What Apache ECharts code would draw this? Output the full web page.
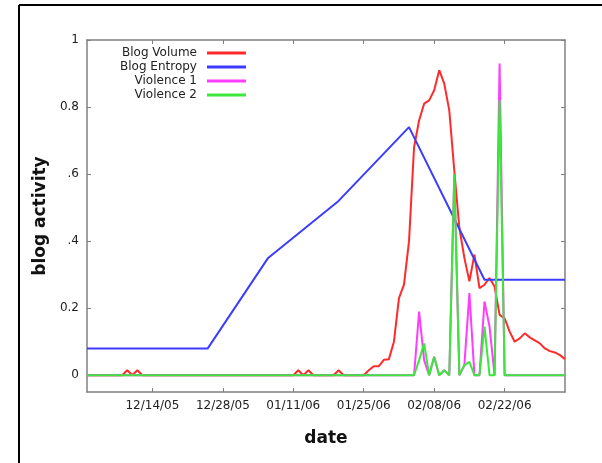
<!DOCTYPE html>
<html>
<head>
<meta charset="utf-8">
<script src="https://cdn.jsdelivr.net/npm/echarts@6/dist/echarts.min.js"></script>
<style>
html,body{margin:0;padding:0;background:#fff;}
#main{width:602px;height:463px;}
</style>
</head>
<body>
<div id="main"></div>
<script>
// x = days since 12/01/05
var tickDays = [13, 27, 41, 55, 69, 83];
var tickLabels = ['12/14/05', '12/28/05', '01/11/06', '01/25/06', '02/08/06', '02/22/06'];
var yTicks = [0, 0.2, 0.4, 0.6, 0.8, 1];
var yLabels = ['0', '0.2', '.4', '.6', '0.8', '1'];

// daily values, day 0 .. 95
var blogVolume = [
    0, 0, 0, 0, 0, 0, 0, 0, 0.015, 0, 0.015, 0, 0, 0, 0, 0, 0, 0, 0, 0,
    0, 0, 0, 0, 0, 0, 0, 0, 0, 0, 0, 0, 0, 0, 0, 0, 0, 0, 0, 0,
    0, 0, 0.015, 0, 0.015, 0, 0, 0, 0, 0, 0.015, 0, 0, 0, 0, 0, 0.015, 0.027, 0.027, 0.046,
    0.048, 0.10, 0.23, 0.27, 0.40, 0.68, 0.76, 0.81, 0.82, 0.85, 0.91, 0.87, 0.79, 0.61, 0.44, 0.35, 0.28, 0.36, 0.26, 0.27,
    0.29, 0.265, 0.18, 0.17, 0.13, 0.10, 0.11, 0.125, 0.113, 0.104, 0.095, 0.08, 0.072, 0.068, 0.06, 0.048
];
var violence1 = [
    0, 0, 0, 0, 0, 0, 0, 0, 0, 0, 0, 0, 0, 0, 0, 0, 0, 0, 0, 0,
    0, 0, 0, 0, 0, 0, 0, 0, 0, 0, 0, 0, 0, 0, 0, 0, 0, 0, 0, 0,
    0, 0, 0, 0, 0, 0, 0, 0, 0, 0, 0, 0, 0, 0, 0, 0, 0, 0, 0, 0,
    0, 0, 0, 0, 0, 0, 0.19, 0.045, 0, 0.055, 0, 0.015, 0, 0.6, 0, 0.03, 0.245, 0, 0, 0.22,
    0.145, 0, 0.93, 0, 0, 0, 0, 0, 0, 0, 0, 0, 0, 0, 0, 0
];
var violence2 = [
    0, 0, 0, 0, 0, 0, 0, 0, 0, 0, 0, 0, 0, 0, 0, 0, 0, 0, 0, 0,
    0, 0, 0, 0, 0, 0, 0, 0, 0, 0, 0, 0, 0, 0, 0, 0, 0, 0, 0, 0,
    0, 0, 0, 0, 0, 0, 0, 0, 0, 0, 0, 0, 0, 0, 0, 0, 0, 0, 0, 0,
    0, 0, 0, 0, 0, 0, 0.045, 0.095, 0, 0.055, 0, 0.015, 0, 0.6, 0, 0.03, 0.04, 0, 0, 0.145,
    0, 0, 0.82, 0, 0, 0, 0, 0, 0, 0, 0, 0, 0, 0, 0, 0
];
// entropy only at a few dates
var entropyDays = [0, 24, 36, 50, 64, 79, 95];
var entropyValues = [0.08, 0.08, 0.35, 0.52, 0.74, 0.285, 0.285];

function daily(arr) {
    var out = [];
    for (var i = 0; i < arr.length; i++) out.push([i, arr[i]]);
    return out;
}
var entropyData = [];
for (var i = 0; i < entropyDays.length; i++) entropyData.push([entropyDays[i], entropyValues[i]]);

var myChart = echarts.init(document.getElementById('main'));
var font = 'DejaVu Sans';
var axisGray = '#808080';

var option = {
    animation: false,
    backgroundColor: '#fff',
    textStyle: { fontFamily: font },
    grid: { left: 87, right: 37, top: 40, bottom: 71 },
    legend: {
        orient: 'vertical',
        align: 'right',
        left: 115,
        top: 41,
        itemGap: 0,
        itemWidth: 39,
        itemHeight: 3,
        icon: 'rect',
        textStyle: { fontFamily: font, fontSize: 12, color: '#222', padding: [0, 5, 0, 0], lineHeight: 14 },
        data: ['Blog Volume', 'Blog Entropy', 'Violence 1', 'Violence 2']
    },
    xAxis: [{
        type: 'value',
        min: 0,
        max: 95,
        position: 'bottom',
        name: 'date',
        nameLocation: 'middle',
        nameGap: 38,
        nameTextStyle: { fontFamily: font, fontSize: 17, fontWeight: 'bold', color: '#111' },
        axisLine: { show: true, onZero: false, lineStyle: { color: axisGray, width: 1.5 } },
        axisTick: { show: true, inside: true, length: 4, customValues: tickDays, lineStyle: { color: axisGray } },
        axisLabel: {
            customValues: tickDays, margin: 8, fontSize: 12, color: '#222', fontFamily: font,
            formatter: function (v) { return tickLabels[tickDays.indexOf(v)]; }
        },
        splitLine: { show: false }
    }, {
        type: 'value',
        min: 0,
        max: 95,
        position: 'top',
        axisLine: { show: true, onZero: false, lineStyle: { color: axisGray, width: 1.5 } },
        axisTick: { show: true, inside: true, length: 4, customValues: tickDays, lineStyle: { color: axisGray } },
        axisLabel: { show: false },
        splitLine: { show: false }
    }],
    yAxis: [{
        type: 'value',
        min: -0.05,
        max: 1,
        position: 'left',
        name: 'blog activity',
        nameLocation: 'middle',
        nameGap: 29,
        nameTextStyle: { fontFamily: font, fontSize: 17, fontWeight: 'bold', color: '#111' },
        axisLine: { show: true, onZero: false, lineStyle: { color: axisGray, width: 1.5 } },
        axisTick: { show: true, inside: true, length: 4, customValues: yTicks, lineStyle: { color: axisGray } },
        axisLabel: {
            customValues: yTicks, margin: 8, fontSize: 12, color: '#222', fontFamily: font,
            formatter: function (v) {
                for (var k = 0; k < yTicks.length; k++) if (Math.abs(yTicks[k] - v) < 1e-6) return yLabels[k];
                return '';
            }
        },
        splitLine: { show: false }
    }, {
        type: 'value',
        min: -0.05,
        max: 1,
        position: 'right',
        axisLine: { show: true, onZero: false, lineStyle: { color: axisGray, width: 1.5 } },
        axisTick: { show: true, inside: true, length: 4, customValues: yTicks, lineStyle: { color: axisGray } },
        axisLabel: { show: false },
        splitLine: { show: false }
    }],
    series: [
        { name: 'Blog Volume', type: 'line', data: daily(blogVolume), showSymbol: false, color: '#ff2a2a', lineStyle: { width: 2 } },
        { name: 'Blog Entropy', type: 'line', data: entropyData, showSymbol: false, color: '#3c3cff', lineStyle: { width: 2 } },
        { name: 'Violence 1', type: 'line', data: daily(violence1), showSymbol: false, color: '#ff3cff', lineStyle: { width: 2 } },
        { name: 'Violence 2', type: 'line', data: daily(violence2), showSymbol: false, color: '#3ce63c', lineStyle: { width: 2 } }
    ],
    graphic: [
        { type: 'line', shape: { x1: 19, y1: 5, x2: 602, y2: 5 }, style: { stroke: '#000', lineWidth: 2 } },
        { type: 'line', shape: { x1: 19, y1: 5, x2: 19, y2: 463 }, style: { stroke: '#000', lineWidth: 2 } }
    ]
};
myChart.setOption(option, true);
</script>
</body>
</html>
